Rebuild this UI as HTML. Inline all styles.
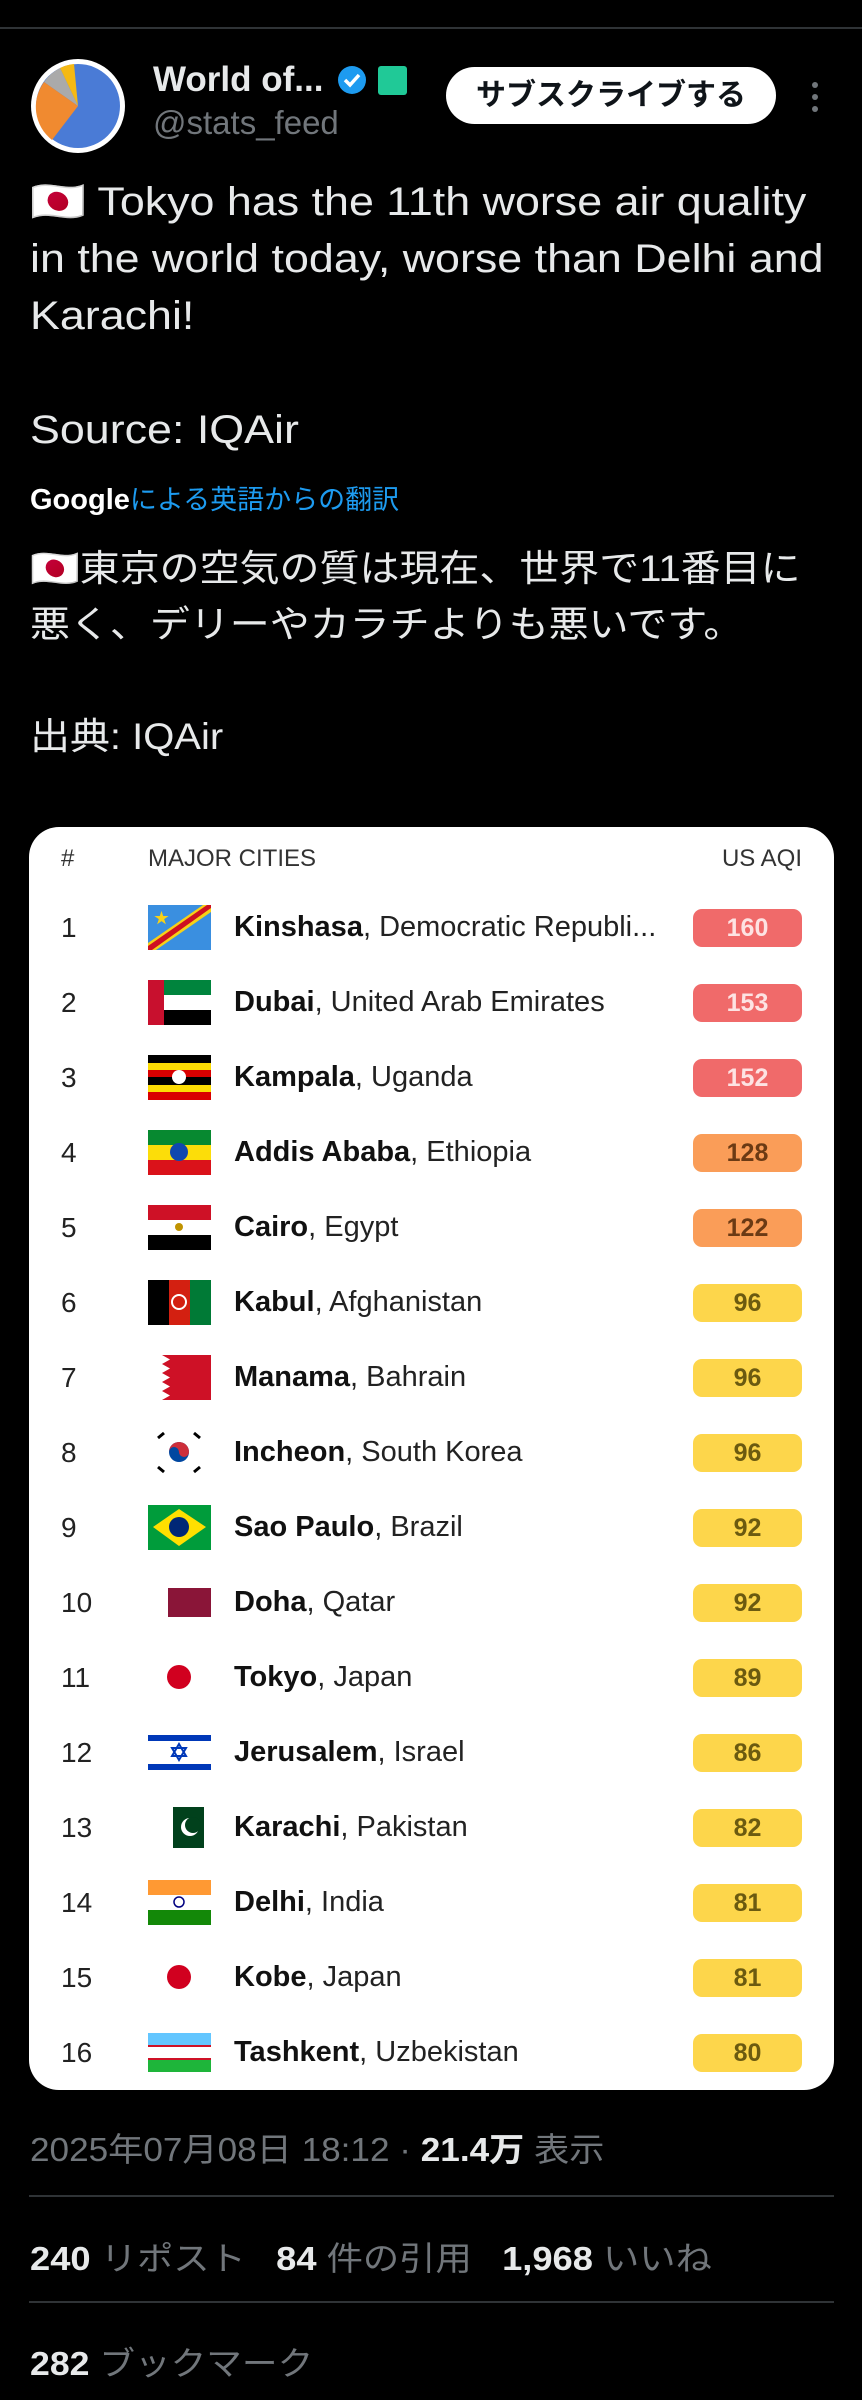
<!DOCTYPE html>
<html><head><meta charset="utf-8">
<style>
*{margin:0;padding:0;box-sizing:border-box}
body{width:862px;height:2400px;background:#000;font-family:"Liberation Sans","Noto Sans CJK JP",sans-serif;color:#e7e9ea;position:relative;overflow:hidden}
.abs{position:absolute;white-space:nowrap}
.topline{position:absolute;left:0;top:27px;width:862px;height:2px;background:#2f3336}
.tw{font-size:40px;line-height:57px;color:#e7e9ea;transform-origin:0 0}
.card{position:absolute;left:29px;top:827px;width:805px;height:1263px;background:#fff;border-radius:30px}
.row{position:absolute;left:0;width:805px;height:75px}
.rk{position:absolute;left:32px;top:0;line-height:75px;font-size:28px;color:#222}
.fl{position:absolute;left:119px;top:15px;width:63px;height:45px}
.ct{position:absolute;left:205px;top:0;line-height:75px;font-size:29px;color:#222;white-space:nowrap}
.ct b{font-weight:bold;color:#111}
.bd{position:absolute;left:664px;top:19px;width:109px;height:38px;border-radius:9px;font-size:25px;line-height:38px;text-align:center;font-weight:bold}
.r{background:#f06a6a;color:#fde3e3}.o{background:#fa9d58;color:#6b3a14}.y{background:#fdd64b;color:#6b5a10}
.hr{position:absolute;left:29px;width:805px;height:2px;background:#2f3336}
.ft{font-size:33px;color:#71767b;transform-origin:0 0;transform:scaleX(1.065)}
</style></head><body>
<div class="topline"></div>
<svg class="abs" style="left:30px;top:58px" width="96" height="96" viewBox="0 0 96 96">
<circle cx="48" cy="48" r="47" fill="#fff"/>
<circle cx="48" cy="48" r="42" fill="#4a7bd6"/>
<path d="M48 48 L44 6 A42 42 0 0 0 30 10 Z" fill="#f5b914"/>
<path d="M48 48 L30 10 A42 42 0 0 0 14 24 Z" fill="#aaa"/>
<path d="M48 48 L14 24 A42 42 0 0 0 22 82 Z" fill="#f08a30"/>
</svg>
<div class="abs" style="left:153px;top:60px;font-size:35px;font-weight:bold;color:#e7e9ea">World of...</div>
<svg class="abs" style="left:337px;top:65px" width="30" height="30" viewBox="0 0 30 30"><circle cx="15" cy="15" r="14" fill="#1d9bf0"/><path d="M8 15 l5 5 l9 -10" stroke="#fff" stroke-width="3.5" fill="none"/></svg>
<div class="abs" style="left:378px;top:66px;width:29px;height:29px;background:#20c997;border-radius:3px"></div>
<div class="abs" style="left:153px;top:104px;font-size:33px;color:#71767b">@stats_feed</div>
<div class="abs" style="left:446px;top:67px;width:330px;height:57px;background:#fff;border-radius:29px;color:#0f1419;font-size:30px;font-weight:bold;line-height:57px;text-align:center">サブスクライブする</div>
<div class="abs" style="left:812px;top:82px;width:6px;height:6px;border-radius:3px;background:#71767b"></div>
<div class="abs" style="left:812px;top:94px;width:6px;height:6px;border-radius:3px;background:#71767b"></div>
<div class="abs" style="left:812px;top:106px;width:6px;height:6px;border-radius:3px;background:#71767b"></div>

<div class="abs tw" style="left:30px;top:174px;transform:scaleX(1.12)">🇯🇵 Tokyo has the 11th worse air quality<br>in the world today, worse than Delhi and<br>Karachi!<br><br>Source: IQAir</div>
<div class="abs" style="left:30px;top:478px;font-size:29px"><span style="color:#fff;font-weight:bold">Google</span><span style="color:#1d9bf0;font-size:27px">による英語からの翻訳</span></div>
<div class="abs tw" style="left:30px;top:541px;line-height:56px;font-size:37px;transform:scaleX(1.08)">🇯🇵東京の空気の質は現在、世界で11番目に<br>悪く、デリーやカラチよりも悪いです。<br><br>出典: IQAir</div>

<div class="card">
<div class="abs" style="left:32px;top:18px;font-size:24px;color:#333">#</div>
<div class="abs" style="left:119px;top:18px;font-size:24px;color:#333">MAJOR CITIES</div>
<div class="abs" style="right:32px;top:18px;font-size:24px;color:#333">US AQI</div>

<div class="row" style="top:63px"><div class="rk">1</div><svg class="fl" viewBox="0 0 63 45"><rect width="63" height="45" fill="#3a8fe0"/><path d="M0 38 L55 0 L63 0 L63 7 L8 45 L0 45Z" fill="#f7d117"/><path d="M0 41 L59 0 L63 0 L63 3 L4 45 L0 45Z" fill="#ce1021"/><text x="6" y="18" font-size="15" fill="#f7d117">★</text></svg><div class="ct"><b>Kinshasa</b>, Democratic Republi...</div><div class="bd r">160</div></div>
<div class="row" style="top:138px"><div class="rk">2</div><svg class="fl" viewBox="0 0 63 45"><rect width="63" height="15" fill="#00843d"/><rect y="15" width="63" height="15" fill="#fff"/><rect y="30" width="63" height="15" fill="#000"/><rect width="16" height="45" fill="#c8102e"/></svg><div class="ct"><b>Dubai</b>, United Arab Emirates</div><div class="bd r">153</div></div>
<div class="row" style="top:213px"><div class="rk">3</div><svg class="fl" viewBox="0 0 63 45"><rect width="63" height="8" fill="#000"/><rect y="8" width="63" height="7" fill="#fcdc04"/><rect y="15" width="63" height="7" fill="#d90000"/><rect y="22" width="63" height="8" fill="#000"/><rect y="30" width="63" height="7" fill="#fcdc04"/><rect y="37" width="63" height="8" fill="#d90000"/><circle cx="31" cy="22" r="7" fill="#fff"/></svg><div class="ct"><b>Kampala</b>, Uganda</div><div class="bd r">152</div></div>
<div class="row" style="top:288px"><div class="rk">4</div><svg class="fl" viewBox="0 0 63 45"><rect width="63" height="15" fill="#078930"/><rect y="15" width="63" height="15" fill="#fcdd09"/><rect y="30" width="63" height="15" fill="#da121a"/><circle cx="31" cy="22" r="9" fill="#0f47af"/></svg><div class="ct"><b>Addis Ababa</b>, Ethiopia</div><div class="bd o">128</div></div>
<div class="row" style="top:363px"><div class="rk">5</div><svg class="fl" viewBox="0 0 63 45"><rect width="63" height="15" fill="#ce1126"/><rect y="15" width="63" height="15" fill="#fff"/><rect y="30" width="63" height="15" fill="#000"/><circle cx="31" cy="22" r="4" fill="#c09300"/></svg><div class="ct"><b>Cairo</b>, Egypt</div><div class="bd o">122</div></div>
<div class="row" style="top:438px"><div class="rk">6</div><svg class="fl" viewBox="0 0 63 45"><rect width="21" height="45" fill="#000"/><rect x="21" width="21" height="45" fill="#d32011"/><rect x="42" width="21" height="45" fill="#007a36"/><circle cx="31" cy="22" r="7" fill="none" stroke="#fff" stroke-width="2"/></svg><div class="ct"><b>Kabul</b>, Afghanistan</div><div class="bd y">96</div></div>
<div class="row" style="top:513px"><div class="rk">7</div><svg class="fl" viewBox="0 0 63 45"><rect x="14" width="49" height="45" fill="#ce1126"/><path d="M14 0 L22 4.5 L14 9 L22 13.5 L14 18 L22 22.5 L14 27 L22 31.5 L14 36 L22 40.5 L14 45" fill="#fff"/></svg><div class="ct"><b>Manama</b>, Bahrain</div><div class="bd y">96</div></div>
<div class="row" style="top:588px"><div class="rk">8</div><svg class="fl" viewBox="0 0 63 45"><rect width="63" height="45" fill="#fff"/><circle cx="31" cy="22" r="10" fill="#0047a0"/><path d="M21 22 A10 10 0 0 1 41 22 A5 5 0 0 1 31 22 A5 5 0 0 0 21 22Z" fill="#cd2e3a"/><g stroke="#000" stroke-width="3"><path d="M10 8 l6 -5 M46 3 l6 5 M10 37 l6 5 M46 42 l6 -5"/></g></svg><div class="ct"><b>Incheon</b>, South Korea</div><div class="bd y">96</div></div>
<div class="row" style="top:663px"><div class="rk">9</div><svg class="fl" viewBox="0 0 63 45"><rect width="63" height="45" fill="#009c3b"/><path d="M31 4 L58 22 L31 41 L5 22Z" fill="#ffdf00"/><circle cx="31" cy="22" r="10" fill="#002776"/></svg><div class="ct"><b>Sao Paulo</b>, Brazil</div><div class="bd y">92</div></div>
<div class="row" style="top:738px"><div class="rk">10</div><svg class="fl" viewBox="0 0 63 45"><rect x="14" y="8" width="49" height="29" fill="#8a1538"/><rect x="14" y="8" width="6" height="29" fill="#fff"/></svg><div class="ct"><b>Doha</b>, Qatar</div><div class="bd y">92</div></div>
<div class="row" style="top:813px"><div class="rk">11</div><svg class="fl" viewBox="0 0 63 45"><circle cx="31" cy="22" r="12" fill="#d1001f"/></svg><div class="ct"><b>Tokyo</b>, Japan</div><div class="bd y">89</div></div>
<div class="row" style="top:888px"><div class="rk">12</div><svg class="fl" viewBox="0 0 63 45"><rect width="63" height="45" fill="#fff"/><rect y="5" width="63" height="6" fill="#0038b8"/><rect y="34" width="63" height="6" fill="#0038b8"/><path d="M31 14 L38 26 L24 26Z M31 30 L24 18 L38 18Z" fill="none" stroke="#0038b8" stroke-width="2"/></svg><div class="ct"><b>Jerusalem</b>, Israel</div><div class="bd y">86</div></div>
<div class="row" style="top:963px"><div class="rk">13</div><svg class="fl" viewBox="0 0 63 45"><rect x="16" y="2" width="40" height="41" fill="#01411c"/><rect x="16" y="2" width="9" height="41" fill="#fff"/><circle cx="42" cy="22" r="9" fill="#fff"/><circle cx="45" cy="20" r="8" fill="#01411c"/></svg><div class="ct"><b>Karachi</b>, Pakistan</div><div class="bd y">82</div></div>
<div class="row" style="top:1038px"><div class="rk">14</div><svg class="fl" viewBox="0 0 63 45"><rect width="63" height="15" fill="#ff9933"/><rect y="15" width="63" height="15" fill="#fff"/><rect y="30" width="63" height="15" fill="#138808"/><circle cx="31" cy="22" r="5" fill="none" stroke="#000080" stroke-width="1.5"/></svg><div class="ct"><b>Delhi</b>, India</div><div class="bd y">81</div></div>
<div class="row" style="top:1113px"><div class="rk">15</div><svg class="fl" viewBox="0 0 63 45"><circle cx="31" cy="22" r="12" fill="#d1001f"/></svg><div class="ct"><b>Kobe</b>, Japan</div><div class="bd y">81</div></div>
<div class="row" style="top:1188px"><div class="rk">16</div><svg class="fl" viewBox="0 0 63 45"><rect y="3" width="63" height="12" fill="#63c6ff"/><rect y="15" width="63" height="2" fill="#ce1126"/><rect y="17" width="63" height="11" fill="#fff"/><rect y="28" width="63" height="2" fill="#ce1126"/><rect y="30" width="63" height="12" fill="#1eb53a"/></svg><div class="ct"><b>Tashkent</b>, Uzbekistan</div><div class="bd y">80</div></div>
</div>

<div class="abs ft" style="left:30px;top:2123px">2025年07月08日 18:12 · <b style="color:#e7e9ea">21.4万</b> 表示</div>
<div class="hr" style="top:2195px"></div>
<div class="abs ft" style="left:30px;top:2232px;transform:scaleX(1.10)"><b style="color:#e7e9ea">240</b> リポスト&nbsp;&nbsp; <b style="color:#e7e9ea">84</b> 件の引用&nbsp;&nbsp; <b style="color:#e7e9ea">1,968</b> いいね</div>
<div class="hr" style="top:2301px"></div>
<div class="abs ft" style="left:30px;top:2337px;transform:scaleX(1.08)"><b style="color:#e7e9ea">282</b> ブックマーク</div>
</body></html>
